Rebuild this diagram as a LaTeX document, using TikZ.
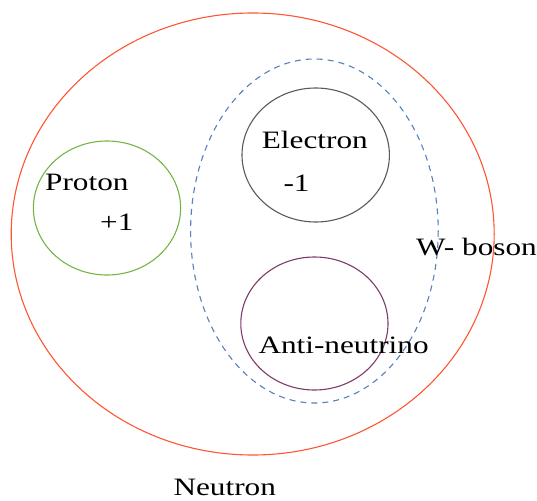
\documentclass[tikz,border=0pt]{standalone}
\usepackage{fontspec}
\setmainfont[FakeStretch=1.25]{Liberation Serif}
\definecolor{neutronc}{HTML}{FF5533}
\definecolor{protonc}{HTML}{77B443}
\definecolor{electronc}{HTML}{5A5A5A}
\definecolor{antic}{HTML}{7E3A68}
\definecolor{wbosonc}{HTML}{5580BE}
\begin{document}
\begin{tikzpicture}[x=1pt,y=-1pt,
  lbl/.style={anchor=base west,inner sep=0pt,font=\fontsize{25}{30}\selectfont,text=black},
  particle/.style={line width=1.1pt}]
\useasboundingbox (0,0) rectangle (537,500);
\draw[particle,neutronc] (252.7,234) ellipse [x radius=241.5,y radius=221];
\draw[particle,protonc] (107,208) ellipse [x radius=73.6,y radius=67];
\draw[particle,electronc] (315.7,155) ellipse [x radius=73.7,y radius=67];
\draw[particle,antic] (314.4,323.5) ellipse [x radius=73.6,y radius=66.5];
\draw[line width=1.1pt,wbosonc,dash pattern=on 6pt off 5pt] (314.4,231) ellipse [x radius=123.8,y radius=172];
\node[lbl] (proton) at (45,190) {Proton};
\node[lbl] (pcharge) at (100,230) {+1};
\node[lbl] (electron) at (261.7,148.3) {Electron};
\node[lbl] (echarge) at (283.3,191.7) {-1};
\node[lbl] (anti) at (258.3,353.3) {Anti-neutrino};
\node[lbl] (wboson) at (416,255) {W- boson};
\node[lbl] (neutron) at (173.3,495) {Neutron};
\end{tikzpicture}
\end{document}
